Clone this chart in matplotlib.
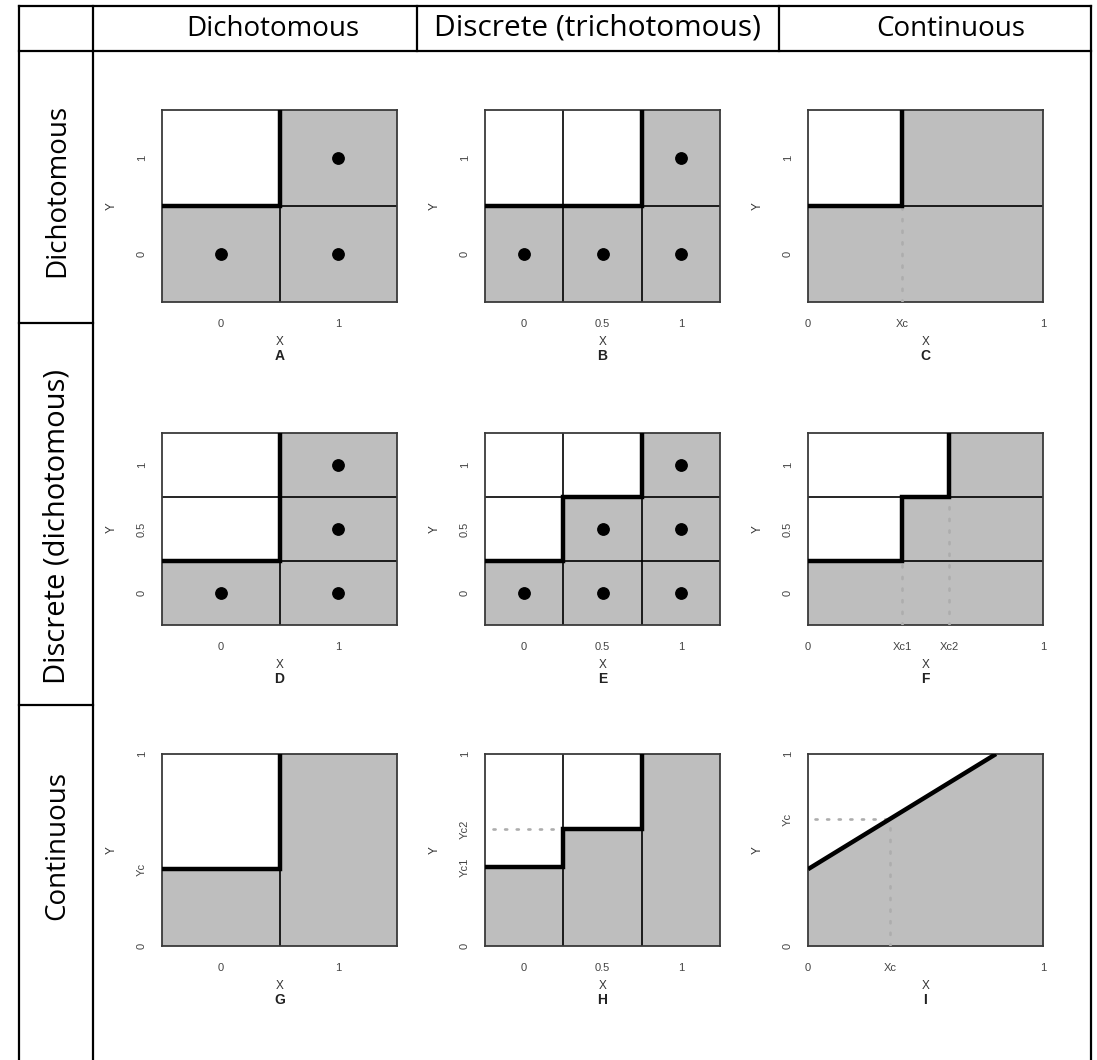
import matplotlib
matplotlib.use("Agg")
import matplotlib.pyplot as plt
from matplotlib.lines import Line2D

plt.rcParams["font.family"] = ["Liberation Sans", "DejaVu Sans"]

col_titles = ["Dichotomous", "Discrete (trichotomous)", "Continuous"]
row_titles = ["Dichotomous", "Discrete (dichotomous)", "Continuous"]
panel_letters = ["A", "B", "C", "D", "E", "F", "G", "H", "I"]

# levels of the categorical axes, None means continuous 0..1
x_cats = [["0", "1"], ["0", "0.5", "1"], None]
y_cats = [["0", "1"], ["0", "0.5", "1"], None]

# cut points on continuous axes (value, label)
xcut_C = [0.40]
xcut_C_lab = ["Xc"]
xcut_F = [0.40, 0.60]
xcut_F_lab = ["Xc1", "Xc2"]
ycut_G_lab = ["Yc"]
ycut_H_lab = ["Yc1", "Yc2"]

# how far up the gray area goes in each x segment
# (rows for categorical Y, value for continuous Y)
gray_A = [1, 2]
gray_B = [1, 1, 2]
gray_C = [1, 2]
gray_D = [1, 3]
gray_E = [1, 2, 3]
gray_F = [1, 2, 3]
gray_G = [0.40, 1.0]
gray_H = [0.41, 0.61, 1.0]

# observed combinations (X value, Y value)
pts_A_x = [0, 1, 1]
pts_A_y = [0, 0, 1]
pts_B_x = [0, 0.5, 1, 1]
pts_B_y = [0, 0, 0, 1]
pts_D_x = [0, 1, 1, 1]
pts_D_y = [0, 0, 0.5, 1]
pts_E_x = [0, 0.5, 1, 0.5, 1, 1]
pts_E_y = [0, 0, 0, 0.5, 0.5, 1]

# panel I: straight boundary line
line_I_x = [0.0, 0.80]
line_I_y = [0.40, 1.0]
xc_I = 0.35
yc_I = 0.66

panels = [
    dict(gray=gray_A, px=pts_A_x, py=pts_A_y),
    dict(gray=gray_B, px=pts_B_x, py=pts_B_y),
    dict(gray=gray_C, xcut=xcut_C, xlab=xcut_C_lab),
    dict(gray=gray_D, px=pts_D_x, py=pts_D_y),
    dict(gray=gray_E, px=pts_E_x, py=pts_E_y),
    dict(gray=gray_F, xcut=xcut_F, xlab=xcut_F_lab),
    dict(gray=gray_G, ylab=ycut_G_lab),
    dict(gray=gray_H, ylab=ycut_H_lab),
    None,
]

GRAY = "#bebebe"
DOT = dict(color="#adadad", lw=1.9, ls=(0, (0.8, 3.6)), dash_capstyle="round", zorder=3)
W, H = 1097, 1060
fig = plt.figure(figsize=(W / 100, H / 100), dpi=100)


def fx(px):
    return px / W


def fy(py):
    return 1 - py / H


col_left = [162, 485, 808]
row_top = [110, 433, 754]
aw, ah = 235, 192

for r in range(3):
    for c in range(3):
        k = r * 3 + c
        p = panels[k]
        ax = fig.add_axes([fx(col_left[c]), fy(row_top[r] + ah), aw / W, ah / H])
        xcat, ycat = x_cats[c], y_cats[r]

        if p is None:
            # panel I
            ax.set_xlim(0, 1)
            ax.set_ylim(0, 1)
            ax.fill_between(line_I_x + [1.0], line_I_y + [1.0], 0, color=GRAY, lw=0, zorder=1)
            ax.plot([0.03, xc_I], [yc_I, yc_I], **DOT)
            ax.plot([xc_I, xc_I], [0, yc_I], **DOT)
            ax.plot(line_I_x, line_I_y, color="k", lw=3.2, zorder=4, solid_capstyle="butt")
            ax.set_xticks([0, xc_I, 1], ["0", "Xc", "1"])
            ax.set_yticks([0, yc_I, 1], ["0", "Yc", "1"])
        else:
            if xcat:
                nx = len(xcat)
                xlim = (-0.5, nx - 0.5)
                xedges = [i - 0.5 for i in range(nx + 1)]
                ax.set_xticks(range(nx), xcat)
            else:
                xlim = (0, 1)
                xedges = [0] + p["xcut"] + [1]
                ax.set_xticks(xedges, ["0"] + p["xlab"] + ["1"])
            if ycat:
                ny = len(ycat)
                ylim = (-0.5, ny - 0.5)
                tops = [g - 0.5 for g in p["gray"]]
                ax.set_yticks(range(ny), ycat)
            else:
                ylim = (0, 1)
                tops = p["gray"]
                ax.set_yticks([0] + tops[:-1] + [1], ["0"] + p["ylab"] + ["1"])
            ax.set_xlim(*xlim)
            ax.set_ylim(*ylim)

            for i in range(len(tops)):
                ax.fill_between([xedges[i], xedges[i + 1]], ylim[0], tops[i],
                                color=GRAY, lw=0, zorder=1)
            if xcat:
                for e in xedges[1:-1]:
                    ax.axvline(e, color="k", lw=1.2, zorder=2)
            else:
                for i, cut in enumerate(p["xcut"]):
                    ax.plot([cut, cut], [ylim[0], tops[i]], **DOT)
            if ycat:
                for i in range(1, ny):
                    ax.axhline(i - 0.5, color="k", lw=1.2, zorder=2)
            else:
                for i in range(1, len(tops)):
                    if tops[i] < ylim[1]:
                        ax.plot([xlim[0] + 0.1, xedges[i]], [tops[i], tops[i]], **DOT)

            # thick boundary between white and gray
            sx, sy = [xedges[0]], [tops[0]]
            for i in range(len(tops)):
                if tops[i] >= ylim[1]:
                    break
                sx += [xedges[i + 1], xedges[i + 1]]
                sy += [tops[i], tops[i + 1]]
            ax.plot(sx, sy, color="k", lw=3.2, zorder=4, solid_joinstyle="miter")

            if "px" in p:
                ix = [v * (len(xcat) - 1) for v in p["px"]]
                iy = [v * (len(ycat) - 1) for v in p["py"]]
                ax.plot(ix, iy, "o", color="k", ms=8.2, zorder=5)

        for s in ax.spines.values():
            s.set_color("#3a3a3a")
            s.set_linewidth(1.3)
        ax.tick_params(length=0, labelsize=8, labelcolor="#444444")
        ax.tick_params(axis="x", pad=12)
        ax.tick_params(axis="y", pad=11)
        for lbl in ax.get_yticklabels():
            lbl.set_rotation(90)
            lbl.set_va("center")
        ax.annotate("X", xy=(0.5, 0), xycoords="axes fraction", xytext=(0, -29),
                    textcoords="offset points", ha="center", va="center",
                    fontsize=8.5, color="#333333")
        ax.annotate(panel_letters[k], xy=(0.5, 0), xycoords="axes fraction",
                    xytext=(0, -39), textcoords="offset points", ha="center",
                    va="center", fontsize=10, fontweight="bold", color="#222222")
        ax.annotate("Y", xy=(0, 0.5), xycoords="axes fraction", xytext=(-36, 0),
                    textcoords="offset points", ha="center", va="center",
                    rotation=90, fontsize=8.5, color="#333333")

# table frame
frame = [
    ((19, 1091), (6, 6)),
    ((19, 1091), (51, 51)),
    ((19, 19), (6, 1060)),
    ((1091, 1091), (6, 1060)),
    ((93, 93), (6, 1060)),
    ((417, 417), (6, 51)),
    ((779, 779), (6, 51)),
    ((19, 93), (323, 323)),
    ((19, 93), (705, 705)),
]
for (xa, xb), (ya, yb) in frame:
    fig.add_artist(Line2D([fx(xa), fx(xb)], [fy(ya), fy(yb)],
                          transform=fig.transFigure, color="k", lw=1.6))

hfont = ["Open Sans", "DejaVu Sans"]
for t, xc in zip(col_titles, [273, 597, 951]):
    fs = 21.5 if t.startswith("Discrete") else 20
    fig.text(fx(xc), fy(28.5), t, ha="center", va="center", fontsize=fs,
             family=hfont)
for t, yc in zip(row_titles, [190, 526, 845]):
    fs = 21 if t.startswith("Discrete") else 20
    fig.text(fx(57), fy(yc), t, ha="center", va="center", fontsize=fs,
             rotation=90, family=hfont)

fig.savefig("out.png", dpi=100)
